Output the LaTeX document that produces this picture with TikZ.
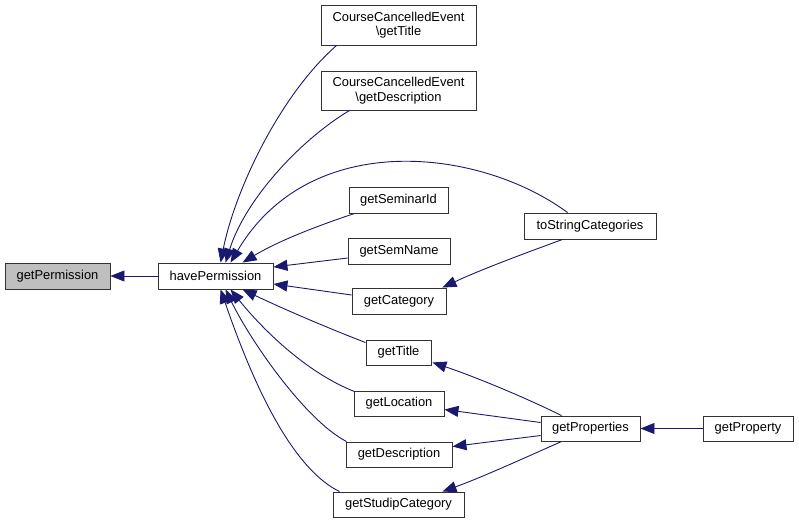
\documentclass[tikz,border=0pt]{standalone}
\usepackage{fontspec}
\setmainfont{Liberation Sans}
\usetikzlibrary{arrows.meta,calc}
\definecolor{edgeblue}{HTML}{191970}
\definecolor{focusgray}{HTML}{BFBFBF}
\begin{document}
\begin{tikzpicture}[x=1pt,y=-1pt,
  fn/.style={draw=black!80, fill=white, line width=0.9pt, inner sep=0pt, align=center,
    font=\fontsize{12.9}{14.5}\selectfont},
  call/.style={draw=edgeblue, line width=0.9pt, -{Triangle[length=14pt,width=11pt]}}]
\useasboundingbox (0,0) rectangle (799,523);
\node[fn, fill=focusgray, minimum width=105pt, minimum height=26pt] (gp) at (57.5,276) {getPermission};
\node[fn, minimum width=115pt, minimum height=26pt] (hp) at (215.5,276) {havePermission};
\node[fn, minimum width=155pt, minimum height=40pt] (ct) at (398.5,25) {CourseCancelledEvent\\\textbackslash getTitle};
\node[fn, minimum width=155pt, minimum height=39pt] (cd) at (398.5,90.5) {CourseCancelledEvent\\\textbackslash getDescription};
\node[fn, minimum width=99pt, minimum height=26pt] (sid) at (398.5,200) {getSeminarId};
\node[fn, minimum width=102pt, minimum height=26pt] (sn) at (399,251) {getSemName};
\node[fn, minimum width=94pt, minimum height=26pt] (cat) at (399,301) {getCategory};
\node[fn, minimum width=65pt, minimum height=25pt] (ti) at (398.5,352.5) {getTitle};
\node[fn, minimum width=90pt, minimum height=25pt] (loc) at (399,403.5) {getLocation};
\node[fn, minimum width=106pt, minimum height=25pt] (desc) at (399,454.5) {getDescription};
\node[fn, minimum width=131pt, minimum height=25pt] (sc) at (398.5,504.5) {getStudipCategory};
\node[fn, minimum width=132pt, minimum height=26pt] (tsc) at (590,226) {toStringCategories};
\node[fn, minimum width=99pt, minimum height=25pt] (props) at (590.5,428.5) {getProperties};
\node[fn, minimum width=90pt, minimum height=25pt] (prop) at (748,428.5) {getProperty};

\draw[call] (hp.west) -- (gp.east);
\draw[call] ($(ct.south west)+(16,0)$) .. controls (280,95) and (235,190) .. ($(hp.north west)+(63,0)$);
\draw[call] ($(cd.south west)+(29,0)$) .. controls (300,140) and (245,200) .. ($(hp.north west)+(68,0)$);
\draw[call] ($(tsc.north west)+(44,0)$) .. controls (480,148) and (310,128) .. ($(hp.north west)+(73,0)$);
\draw[call] ($(sid.south west)+(6,0)$) .. controls (320,225) and (280,240) .. ($(hp.north west)+(85,0)$);
\draw[call] ($(sn.west)+(0,7)$) -- ($(hp.east)+(0,-9)$);
\draw[call] ($(cat.west)+(0,-6)$) -- ($(hp.east)+(0,8)$);
\draw[call] ($(ti.north west)+(0,3)$) .. controls (320,325) and (275,305) .. ($(hp.south west)+(85,0)$);
\draw[call] ($(loc.north west)+(1,1)$) .. controls (300,370) and (255,320) .. ($(hp.south west)+(73,0)$);
\draw[call] ($(desc.north west)+(1,0)$) .. controls (305,420) and (250,340) .. ($(hp.south west)+(68,0)$);
\draw[call] ($(sc.north west)+(7,0)$) .. controls (285,465) and (245,360) .. ($(hp.south west)+(63,0)$);

\draw[call] ($(tsc.south west)+(39,0)$) .. controls (520,255) and (480,270) .. ($(cat.north east)+(-4,0)$);
\draw[call] ($(props.north west)+(21,0)$) .. controls (520,395) and (470,375) .. ($(ti.south east)+(1,-3)$);
\draw[call] ($(props.west)+(0,-6)$) -- ($(loc.east)+(0,6)$);
\draw[call] ($(props.west)+(0,7)$) -- ($(desc.east)+(0,-8)$);
\draw[call] ($(props.south west)+(21,0)$) .. controls (520,460) and (480,478) .. ($(sc.north east)+(-22,0)$);
\draw[call] (prop.west) -- (props.east);
\end{tikzpicture}
\end{document}
